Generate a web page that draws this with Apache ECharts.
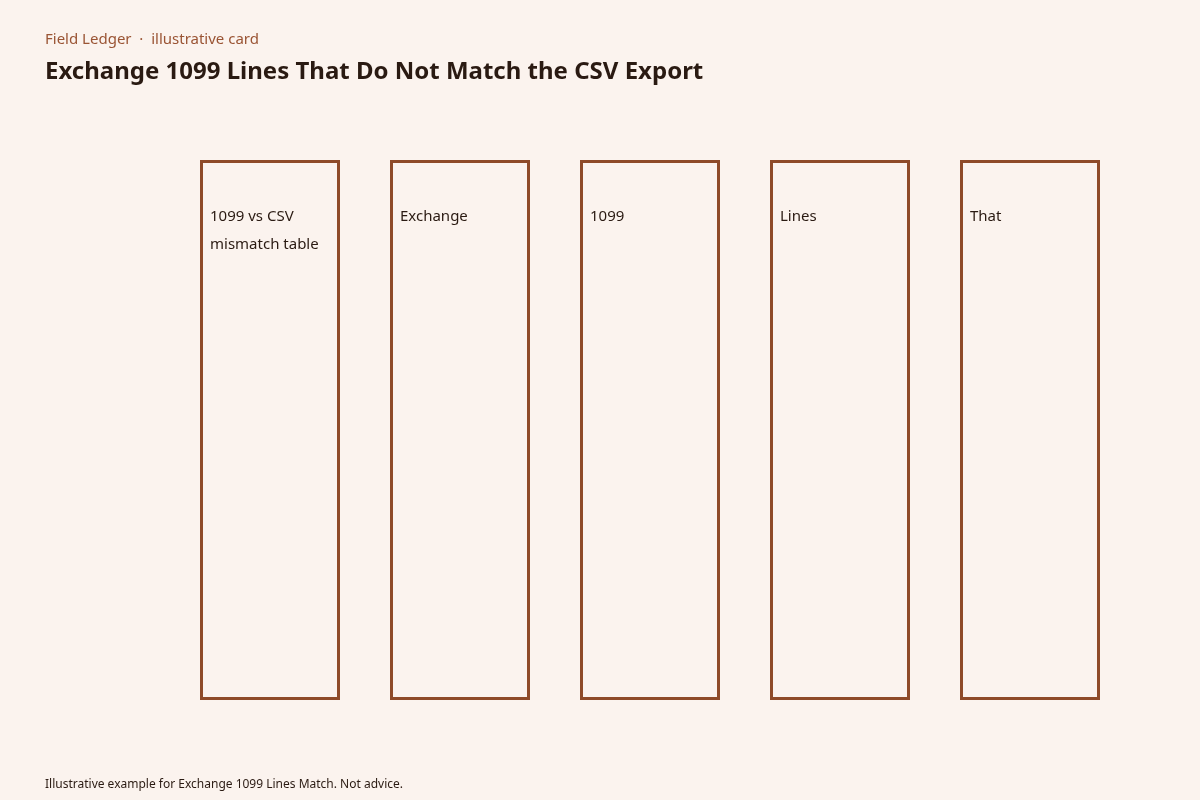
<!DOCTYPE html>
<html>
<head>
<meta charset="utf-8">
<script src="https://cdn.jsdelivr.net/npm/echarts@6/dist/echarts.min.js"></script>
<style>html,body{margin:0;padding:0;background:#fbf3ee;}#main{width:1200px;height:800px;}</style>
</head>
<body>
<div id="main"></div>
<script>
// card labels, one column each
var columns = ['1099 vs CSV\nmismatch table', 'Exchange', '1099', 'Lines', 'That'];
var heights = [1, 1, 1, 1, 1];

var chart = echarts.init(document.getElementById('main'));
var font = '"Noto Sans", "Open Sans", sans-serif';

option = {
    backgroundColor: '#fbf3ee',
    title: [
        { text: 'Field Ledger  ·  illustrative card', left: 40, top: 27,
          textStyle: { fontFamily: font, fontSize: 15, fontWeight: 'normal', color: '#9a5434' } },
        { text: 'Exchange 1099 Lines That Do Not Match the CSV Export', left: 40, top: 55,
          textStyle: { fontFamily: font, fontSize: 24, fontWeight: 'bold', color: '#2a1a12' } },
        { text: 'Illustrative example for Exchange 1099 Lines Match. Not advice.', left: 40, top: 774,
          textStyle: { fontFamily: font, fontSize: 12, fontWeight: 'normal', color: '#2a1a12' } }
    ],
    grid: { left: 175, right: 75, top: 160, bottom: 100 },
    xAxis: { type: 'category', data: columns, show: false },
    yAxis: { type: 'value', min: 0, max: 1, show: false },
    series: [{
        type: 'custom',
        data: heights,
        renderItem: function (params, api) {
            var top = api.coord([api.value(0), api.value(1)]);
            var bot = api.coord([api.value(0), 0]);
            var w = 140;
            return {
                type: 'group',
                children: [
                    { type: 'rect',
                      shape: { x: top[0] - w / 2 + 1.5, y: top[1] + 1.5, width: w - 3, height: bot[1] - top[1] - 3 },
                      style: { fill: 'none', stroke: '#8e4a28', lineWidth: 3 } },
                    { type: 'text',
                      x: top[0] - w / 2 + 10, y: top[1] + 43,
                      style: { text: columns[params.dataIndex], fill: '#2a1a12',
                               font: '15px ' + font, lineHeight: 28 } }
                ]
            };
        }
    }]
};

chart.setOption(option);
</script>
</body>
</html>
